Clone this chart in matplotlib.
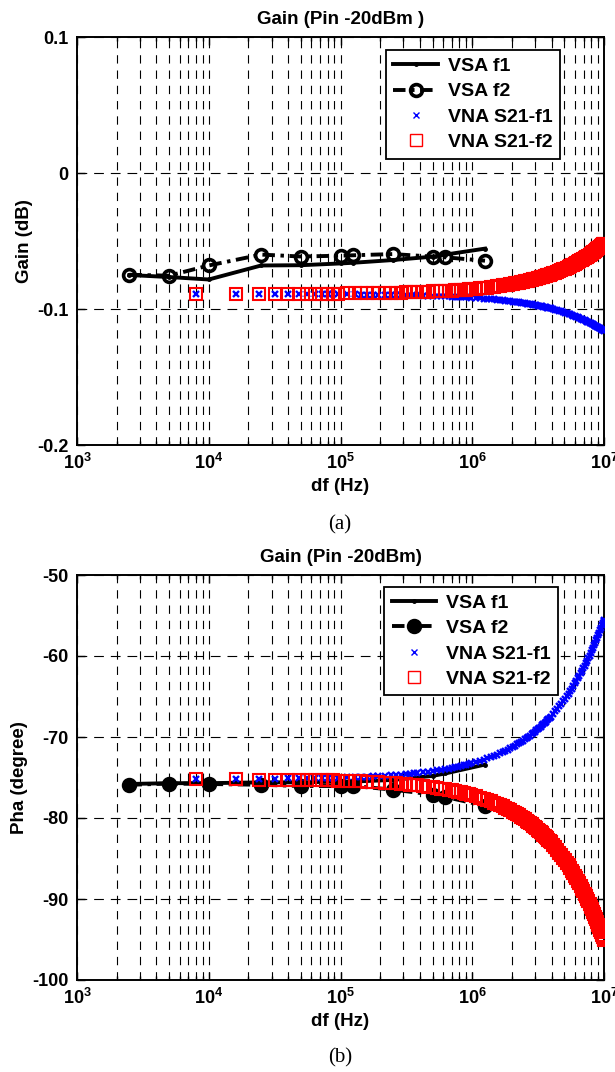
import numpy as np
import matplotlib
matplotlib.use('Agg')
import matplotlib.pyplot as plt
from matplotlib.ticker import FixedLocator, FixedFormatter, LogLocator, NullFormatter

plt.rcParams['font.family'] = ['Liberation Sans', 'DejaVu Sans']
plt.rcParams['font.weight'] = 'bold'
plt.rcParams['mathtext.fontset'] = 'custom'
plt.rcParams['mathtext.rm'] = 'Liberation Sans:bold'
plt.rcParams['mathtext.it'] = 'Liberation Sans:bold'
plt.rcParams['mathtext.bf'] = 'Liberation Sans:bold'
plt.rcParams['lines.scale_dashes'] = False

# ---------------- data ----------------
vsa_freq = [2.5e3, 5e3, 1e4, 2.5e4, 5e4, 1e5, 1.25e5, 2.5e5, 5e5, 6.25e5, 1.25e6]

gain_vsa_f1 = [-0.0750, -0.0765, -0.0783, -0.0680, -0.0678, -0.0665, -0.0660, -0.0640, -0.0615, -0.0600, -0.0556]
gain_vsa_f2 = [-0.0748, -0.0755, -0.0680, -0.0600, -0.0614, -0.0608, -0.0605, -0.0596, -0.0615, -0.0620, -0.0645]

pha_vsa_f1 = [-75.8, -75.7, -75.7, -75.6, -75.6, -75.5, -75.5, -75.3, -74.8, -74.5, -73.4]
pha_vsa_f2 = [-75.9, -75.75, -75.8, -75.9, -76.05, -76.05, -76.05, -76.5, -77.1, -77.4, -78.5]

vna_freq_khz = [8, 16, 24, 32, 40, 48, 56, 64, 72, 80, 88, 96,
                112, 128, 144, 160, 176, 192,
                216, 240, 264, 288, 312, 336, 360, 384,
                424, 464, 504, 544, 584, 624, 664, 704, 744, 784, 824, 864, 904, 944, 984,
                1064, 1144, 1224, 1304, 1384, 1464, 1544, 1624, 1704, 1784, 1864, 1944,
                2024, 2104, 2184, 2264, 2344, 2424, 2504, 2584, 2664, 2744, 2824, 2904, 2984,
                3064, 3144, 3224, 3304, 3384, 3464, 3544, 3624, 3704, 3784, 3864, 3944,
                4104, 4264, 4424, 4584, 4744, 4904, 5064, 5224, 5384, 5544, 5704, 5864,
                6024, 6184, 6344, 6504, 6664, 6824, 6984, 7144, 7304, 7464, 7624, 7784, 7944,
                8104, 8264, 8424, 8584, 8744, 8904, 9064, 9224, 9384, 9544, 9704, 9864, 9944, 10000]

gain_vna_f1 = [-0.0892, -0.0889, -0.0891, -0.0890, -0.0893, -0.0889, -0.0890, -0.0891, -0.0890, -0.0889, -0.0890, -0.0890,
               -0.0893, -0.0893, -0.0894, -0.0894, -0.0895, -0.0895,
               -0.0896, -0.0896, -0.0897, -0.0898, -0.0898, -0.0899, -0.0900, -0.0900,
               -0.0901, -0.0903, -0.0904, -0.0905, -0.0906, -0.0907, -0.0908, -0.0909, -0.0910, -0.0911, -0.0912, -0.0913, -0.0914, -0.0915, -0.0917,
               -0.0919, -0.0921, -0.0923, -0.0925, -0.0927, -0.0930, -0.0932, -0.0934, -0.0936, -0.0938, -0.0940, -0.0942,
               -0.0945, -0.0947, -0.0949, -0.0951, -0.0953, -0.0955, -0.0958, -0.0960, -0.0962, -0.0964, -0.0966, -0.0968, -0.0971,
               -0.0973, -0.0975, -0.0977, -0.0979, -0.0981, -0.0984, -0.0986, -0.0988, -0.0990, -0.0992, -0.0994, -0.0996,
               -0.1001, -0.1005, -0.1009, -0.1014, -0.1018, -0.1022, -0.1027, -0.1031, -0.1035, -0.1040, -0.1044, -0.1048,
               -0.1053, -0.1057, -0.1061, -0.1066, -0.1070, -0.1074, -0.1079, -0.1083, -0.1087, -0.1092, -0.1096, -0.1100, -0.1104,
               -0.1109, -0.1113, -0.1117, -0.1122, -0.1126, -0.1130, -0.1135, -0.1139, -0.1143, -0.1148, -0.1152, -0.1156, -0.1158, -0.1160]

gain_vna_f2 = [-0.0892, -0.0889, -0.0891, -0.0890, -0.0893, -0.0889, -0.0890, -0.0891, -0.0890, -0.0889, -0.0888, -0.0888,
               -0.0886, -0.0885, -0.0885, -0.0884, -0.0883, -0.0883,
               -0.0882, -0.0881, -0.0880, -0.0879, -0.0878, -0.0878, -0.0877, -0.0876,
               -0.0874, -0.0873, -0.0871, -0.0870, -0.0868, -0.0867, -0.0865, -0.0864, -0.0862, -0.0861, -0.0860, -0.0858, -0.0857, -0.0855, -0.0854,
               -0.0851, -0.0848, -0.0845, -0.0842, -0.0839, -0.0836, -0.0833, -0.0830, -0.0827, -0.0824, -0.0821, -0.0818,
               -0.0815, -0.0812, -0.0809, -0.0806, -0.0803, -0.0800, -0.0797, -0.0794, -0.0791, -0.0788, -0.0786, -0.0783, -0.0780,
               -0.0777, -0.0774, -0.0771, -0.0768, -0.0765, -0.0762, -0.0759, -0.0756, -0.0753, -0.0750, -0.0747, -0.0744,
               -0.0738, -0.0732, -0.0726, -0.0720, -0.0714, -0.0709, -0.0703, -0.0697, -0.0691, -0.0685, -0.0679, -0.0673,
               -0.0667, -0.0661, -0.0655, -0.0649, -0.0643, -0.0638, -0.0632, -0.0626, -0.0620, -0.0614, -0.0608, -0.0602, -0.0596,
               -0.0590, -0.0584, -0.0578, -0.0572, -0.0566, -0.0561, -0.0555, -0.0549, -0.0543, -0.0537, -0.0531, -0.0525, -0.0522, -0.0520]

pha_vna_f1 = [-75.18, -75.17, -75.15, -75.14, -75.12, -75.11, -75.09, -75.07, -75.06, -75.04, -75.03, -75.01,
              -74.98, -74.95, -74.92, -74.89, -74.86, -74.82,
              -74.78, -74.73, -74.68, -74.64, -74.59, -74.54, -74.49, -74.45,
              -74.37, -74.29, -74.21, -74.13, -74.06, -73.98, -73.90, -73.82, -73.74, -73.66, -73.58, -73.51, -73.43, -73.35, -73.27,
              -73.11, -72.96, -72.80, -72.64, -72.49, -72.33, -72.17, -72.02, -71.86, -71.70, -71.55, -71.39,
              -71.23, -71.08, -70.92, -70.76, -70.61, -70.45, -70.29, -70.14, -69.98, -69.82, -69.66, -69.51, -69.35,
              -69.19, -69.04, -68.88, -68.72, -68.57, -68.41, -68.25, -68.10, -67.94, -67.78, -67.63, -67.47,
              -67.16, -66.84, -66.53, -66.22, -65.90, -65.59, -65.27, -64.96, -64.65, -64.33, -64.02, -63.71,
              -63.39, -63.08, -62.77, -62.45, -62.14, -61.83, -61.51, -61.20, -60.88, -60.57, -60.26, -59.94, -59.63,
              -59.32, -59.00, -58.69, -58.38, -58.06, -57.75, -57.43, -57.12, -56.81, -56.49, -56.18, -55.87, -55.71, -55.60]

pha_vna_f2 = [-75.22, -75.23, -75.25, -75.26, -75.28, -75.30, -75.31, -75.33, -75.34, -75.36, -75.37, -75.39,
              -75.42, -75.45, -75.49, -75.52, -75.55, -75.58,
              -75.63, -75.68, -75.72, -75.77, -75.82, -75.87, -75.91, -75.96,
              -76.04, -76.12, -76.20, -76.28, -76.36, -76.44, -76.51, -76.59, -76.67, -76.75, -76.83, -76.91, -76.99, -77.07, -77.15,
              -77.31, -77.47, -77.62, -77.78, -77.94, -78.10, -78.26, -78.42, -78.57, -78.73, -78.89, -79.05,
              -79.21, -79.37, -79.52, -79.68, -79.84, -80.00, -80.16, -80.32, -80.47, -80.63, -80.79, -80.95, -81.11,
              -81.27, -81.43, -81.58, -81.74, -81.90, -82.06, -82.22, -82.38, -82.53, -82.69, -82.85, -83.01,
              -83.33, -83.64, -83.96, -84.28, -84.59, -84.91, -85.23, -85.54, -85.86, -86.18, -86.49, -86.81,
              -87.13, -87.44, -87.76, -88.08, -88.39, -88.71, -89.03, -89.35, -89.66, -89.98, -90.30, -90.61, -90.93,
              -91.25, -91.56, -91.88, -92.20, -92.51, -92.83, -93.15, -93.46, -93.78, -94.10, -94.41, -94.73, -94.89, -95.00]

legend_labels = ['VSA f1', 'VSA f2', 'VNA S21-f1', 'VNA S21-f2']
x_ticks = [1e3, 1e4, 1e5, 1e6, 1e7]
x_ticklabels = [r'$10^{3}$', r'$10^{4}$', r'$10^{5}$', r'$10^{6}$', r'$10^{7}$']
gain_yticks = [-0.2, -0.1, 0, 0.1]
gain_yticklabels = ['-0.2', '-0.1', '0', '0.1']
pha_yticks = [-100, -90, -80, -70, -60, -50]
pha_yticklabels = ['-100', '-90', '-80', '-70', '-60', '-50']

vna_freq = np.array(vna_freq_khz, dtype=float) * 1e3

# ---------------- figure ----------------
W, H = 615, 1072
fig = plt.figure(figsize=(W / 100, H / 100), dpi=100)


def panel(rect, y1, y2, y_f1, y_f2, yticks, yticklabels, ylim, title, ylabel,
          circle_face, leg_anchor):
    ax = fig.add_axes(rect)
    ax.plot(vsa_freq, y_f1, '-', color='k', lw=2.8, marker='.', ms=5, label=legend_labels[0], zorder=3)
    ax.plot(vsa_freq, y_f2, '-.', color='k', lw=2.8, marker='o', ms=8.5, mfc=circle_face, mec='k',
            mew=2.6, dashes=(9, 4, 2.5, 4), label=legend_labels[1], zorder=3)
    ax.plot(vna_freq, y1, ls='none', marker='x', ms=5, mew=1.7, color='#0000ff',
            label=legend_labels[2], zorder=4)
    ax.plot(vna_freq, y2, ls='none', marker='s', ms=8, mew=1.5, mfc='none', mec='#ff0000',
            label=legend_labels[3], zorder=5)
    ax.set_xscale('log')
    ax.set_xlim(1e3, 1e7)
    ax.set_ylim(*ylim)
    ax.xaxis.set_major_locator(FixedLocator(x_ticks))
    ax.xaxis.set_major_formatter(FixedFormatter(x_ticklabels))
    ax.xaxis.set_minor_locator(LogLocator(base=10, subs=np.arange(2, 10), numticks=20))
    ax.xaxis.set_minor_formatter(NullFormatter())
    ax.yaxis.set_major_locator(FixedLocator(yticks))
    ax.yaxis.set_major_formatter(FixedFormatter(yticklabels))
    ax.tick_params(which='both', direction='in', top=True, right=True, colors='k')
    ax.tick_params(which='major', length=6, width=1.0, labelsize=13, pad=6)
    ax.tick_params(which='minor', length=3, width=1.0)
    for s in ax.spines.values():
        s.set_linewidth(1.4)
        s.set_color('k')
    ax.grid(True, which='both', axis='x', color='k', lw=0.8, ls=(0, (6, 5)))
    ax.grid(True, which='major', axis='y', color='k', lw=0.8, ls=(0, (7, 5)))
    ax.set_axisbelow(True)
    ax.set_title(title, fontsize=13.5, fontweight='bold', pad=9)
    ax.set_xlabel('df (Hz)', fontsize=13.5, fontweight='bold', labelpad=3)
    ax.set_ylabel(ylabel, fontsize=13.5, fontweight='bold', labelpad=3)
    leg = ax.legend(loc='upper left', bbox_to_anchor=leg_anchor, fontsize=14, frameon=True,
                    fancybox=False, edgecolor='k', framealpha=1, numpoints=1,
                    handlelength=2.3, handletextpad=0.5, labelspacing=0.4, borderpad=0.38,
                    borderaxespad=0)
    leg.get_frame().set_linewidth(1.3)
    leg.set_zorder(10)
    for h in leg.legend_handles[2:]:
        h.set_markeredgewidth(1.0)
    return ax


l = 77 / W
w = (604 - 77) / W

ax1 = panel([l, 1 - 445 / H, w, (445 - 37) / H], gain_vna_f1, gain_vna_f2,
            gain_vsa_f1, gain_vsa_f2, gain_yticks, gain_yticklabels, (-0.2, 0.1),
            'Gain (Pin -20dBm )', 'Gain (dB)', 'none', (0.586, 0.968))
ax2 = panel([l, 1 - 980 / H, w, (980 - 575) / H], pha_vna_f1, pha_vna_f2,
            pha_vsa_f1, pha_vsa_f2, pha_yticks, pha_yticklabels, (-100, -50),
            'Gain (Pin -20dBm)', 'Pha (degree)', 'k', (0.583, 0.971))

fig.text(340 / W, 1 - 525 / H, '(a)', ha='center', va='center', fontsize=15,
         family=['Liberation Serif', 'DejaVu Serif'], fontweight='normal')
fig.text(340 / W, 1 - 1058 / H, '(b)', ha='center', va='center', fontsize=15,
         family=['Liberation Serif', 'DejaVu Serif'], fontweight='normal')

fig.savefig('out.png', dpi=100)
